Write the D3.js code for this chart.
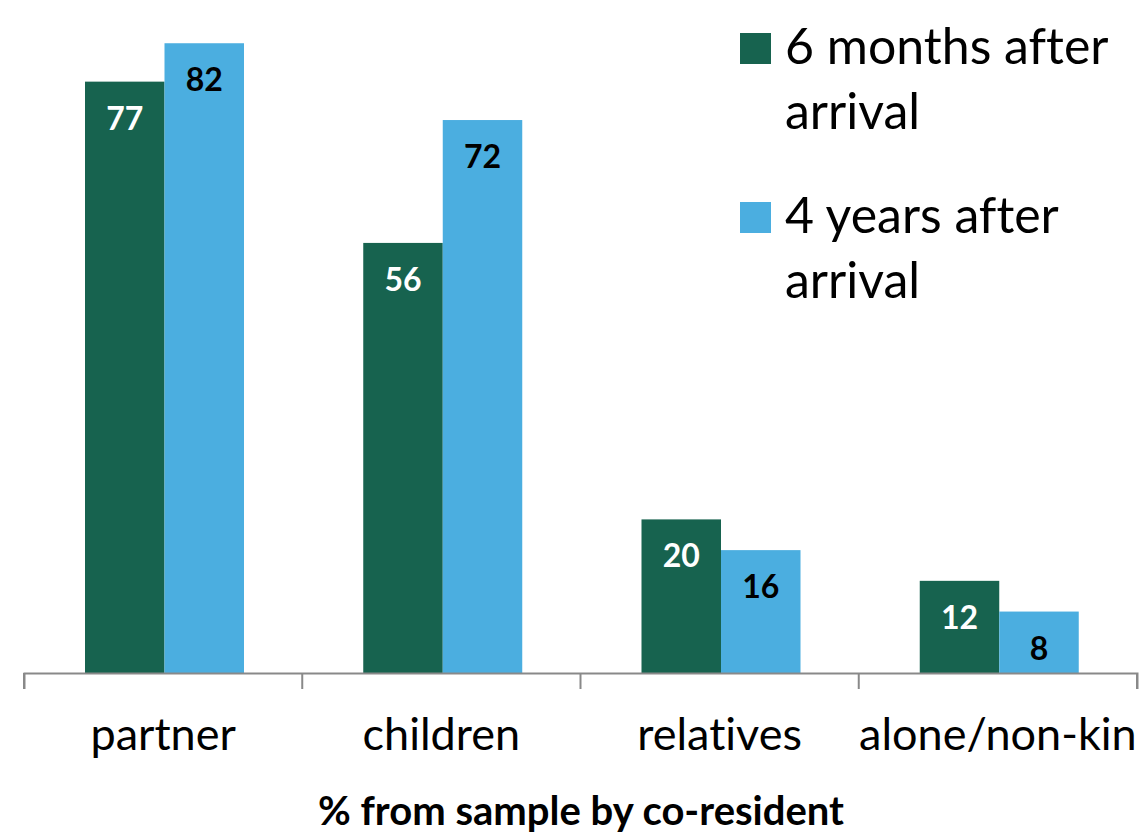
<!DOCTYPE html>
<html>
<head>
<meta charset="utf-8">
<script src="https://cdn.jsdelivr.net/npm/d3@7"></script>
<style>
  body { margin: 0; background: #fff; }
  svg { font-family: Lato, "Open Sans", sans-serif; font-variant-ligatures: none; }
</style>
</head>
<body>
<svg id="chart" width="1141" height="835"></svg>
<script>
const categories = ['partner', 'children', 'relatives', 'alone/non-kin'];
const seriesNames = ['6 months after arrival', '4 years after arrival'];
const legendLines = [['6 months after', 'arrival'], ['4 years after', 'arrival']];
const sixMonths = [77, 56, 20, 12];
const fourYears = [82, 72, 16, 8];
const xTitle = '% from sample by co-resident';

const colors = ['#17634f', '#4baee0'];
const labelColors = ['#fff', '#000'];

const svg = d3.select('#chart');
const axisY = 673;

const x = d3.scaleBand()
    .domain(categories)
    .range([24, 1137])
    .padding(0);

const inner = d3.scaleBand()
    .domain(seriesNames)
    .range([61, 220]);

const y = d3.scaleLinear()
    .domain([0, 90])
    .range([axisY, axisY - 90 * 7.68]);

const rows = categories.map((c, i) => ({ cat: c, vals: [sixMonths[i], fourYears[i]] }));

const groups = svg.selectAll('g.group')
    .data(rows)
    .enter().append('g')
    .attr('class', 'group')
    .attr('transform', d => `translate(${x(d.cat)},0)`);

groups.selectAll('rect')
    .data(d => d.vals.map((v, j) => ({ v, j })))
    .enter().append('rect')
    .attr('x', d => inner(seriesNames[d.j]))
    .attr('y', d => y(d.v))
    .attr('width', inner.bandwidth())
    .attr('height', d => axisY - y(d.v))
    .attr('fill', d => colors[d.j]);

groups.selectAll('text.val')
    .data(d => d.vals.map((v, j) => ({ v, j })))
    .enter().append('text')
    .attr('class', 'val')
    .attr('x', d => inner(seriesNames[d.j]) + inner.bandwidth() / 2)
    .attr('y', d => y(d.v) + 48)
    .attr('text-anchor', 'middle')
    .attr('font-size', 32)
    .attr('font-weight', 'bold')
    .attr('fill', d => labelColors[d.j])
    .text(d => d.v);

// x axis
const xAxis = d3.axisBottom(x)
    .tickSize(16)
    .tickSizeOuter(16)
    .tickValues([]);

const axisG = svg.append('g')
    .attr('transform', `translate(0,${axisY})`)
    .call(xAxis);
axisG.select('.domain').attr('stroke', '#898989').attr('stroke-width', 2);

// boundary ticks between categories
const bounds = categories.map(c => x(c)).concat([x.range()[1]]);
axisG.selectAll('line.bound')
    .data(bounds)
    .enter().append('line')
    .attr('class', 'bound')
    .attr('x1', d => d).attr('x2', d => d)
    .attr('y1', 0).attr('y2', 16)
    .attr('stroke', '#898989')
    .attr('stroke-width', 2);

svg.selectAll('text.cat')
    .data(categories)
    .enter().append('text')
    .attr('class', 'cat')
    .attr('x', d => x(d) + x.bandwidth() / 2)
    .attr('y', 750)
    .attr('text-anchor', 'middle')
    .attr('font-size', 45)
    .attr('fill', '#000')
    .text(d => d);

svg.append('text')
    .attr('x', 581)
    .attr('y', 825)
    .attr('text-anchor', 'middle')
    .attr('font-size', 40)
    .attr('font-weight', 'bold')
    .attr('fill', '#000')
    .text(xTitle);

// legend
const legend = svg.selectAll('g.legend')
    .data(seriesNames)
    .enter().append('g')
    .attr('class', 'legend')
    .attr('transform', (d, i) => `translate(740,${33 + i * 169})`);

legend.append('rect')
    .attr('width', 31)
    .attr('height', 31)
    .attr('fill', (d, i) => colors[i]);

legend.each(function (d, i) {
    const t = d3.select(this).append('text')
        .attr('x', 45)
        .attr('y', 31)
        .attr('font-size', 50)
        .attr('fill', '#000');
    t.selectAll('tspan')
        .data(legendLines[i])
        .enter().append('tspan')
        .attr('x', 45)
        .attr('dy', (l, k) => k === 0 ? 0 : 65)
        .text(l => l);
});
</script>
</body>
</html>
